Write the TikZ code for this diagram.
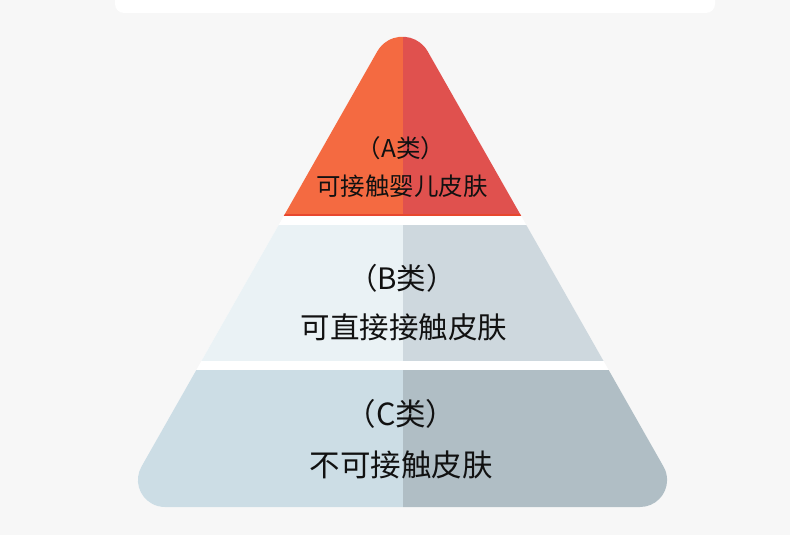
\documentclass[tikz,border=0pt]{standalone}
\usepackage{fontspec}
\newfontfamily\cjk{Noto Sans CJK SC}
\definecolor{bg}{HTML}{F7F7F7}
\definecolor{aL}{HTML}{F46A41}
\definecolor{aR}{HTML}{E0514E}
\definecolor{aLine}{HTML}{E8472E}
\definecolor{bL}{HTML}{EAF2F5}
\definecolor{bR}{HTML}{CED8DE}
\definecolor{cL}{HTML}{CCDDE5}
\definecolor{cR}{HTML}{B0BEC5}
\definecolor{txt}{HTML}{111111}
\newcommand\pyrpath{(164.9,507) -- (640.1,507) arc[start angle=90, end angle=-29.5, radius=27] -- (427.7,51.4) arc[start angle=-29.6, end angle=-150.4, radius=29] -- (141.4,466.7) arc[start angle=209.5, end angle=90, radius=27] -- cycle}
\tikzset{
  lblA/.style={font=\cjk\fontsize{24.5}{24.5}\selectfont, text=txt, inner sep=0pt},
  lblB/.style={font=\cjk\fontsize{29.5}{29.5}\selectfont, text=txt, inner sep=0pt},
  lblC/.style={font=\cjk\fontsize{30.5}{30.5}\selectfont, text=txt, inner sep=0pt},
}
\begin{document}
\begin{tikzpicture}[x=1pt,y=-1pt]
\useasboundingbox (0,0) rectangle (790,535);
\fill[bg] (0,0) rectangle (790,535);
% top card
\fill[white, rounded corners=9pt] (115,-30) rectangle (715,13);
% pyramid base (white gaps)
\fill[white] \pyrpath;
\begin{scope}
  \clip \pyrpath;
  % A layer
  \fill[aL] (0,0) rectangle (402.5,215.5);
  \fill[aR] (402.5,0) rectangle (790,215.5);
  \fill[aLine] (0,214.3) rectangle (790,215.5);
  % B layer
  \fill[bL] (0,224.5) rectangle (402.5,361);
  \fill[bR] (402.5,224.5) rectangle (790,361);
  % C layer
  \fill[cL] (0,370) rectangle (402.5,520);
  \fill[cR] (402.5,370) rectangle (790,520);
\end{scope}
% labels
\node[lblA] (a1) at (401,148) {（A类）};
\node[lblA] (a2) at (402,186) {可接触婴儿皮肤};
\node[lblB] (b1) at (402,278) {（B类）};
\node[lblB] (b2) at (404,327) {可直接接触皮肤};
\node[lblC] (c1) at (401,414) {（C类）};
\node[lblC] (c2) at (401,465) {不可接触皮肤};
\end{tikzpicture}
\end{document}
